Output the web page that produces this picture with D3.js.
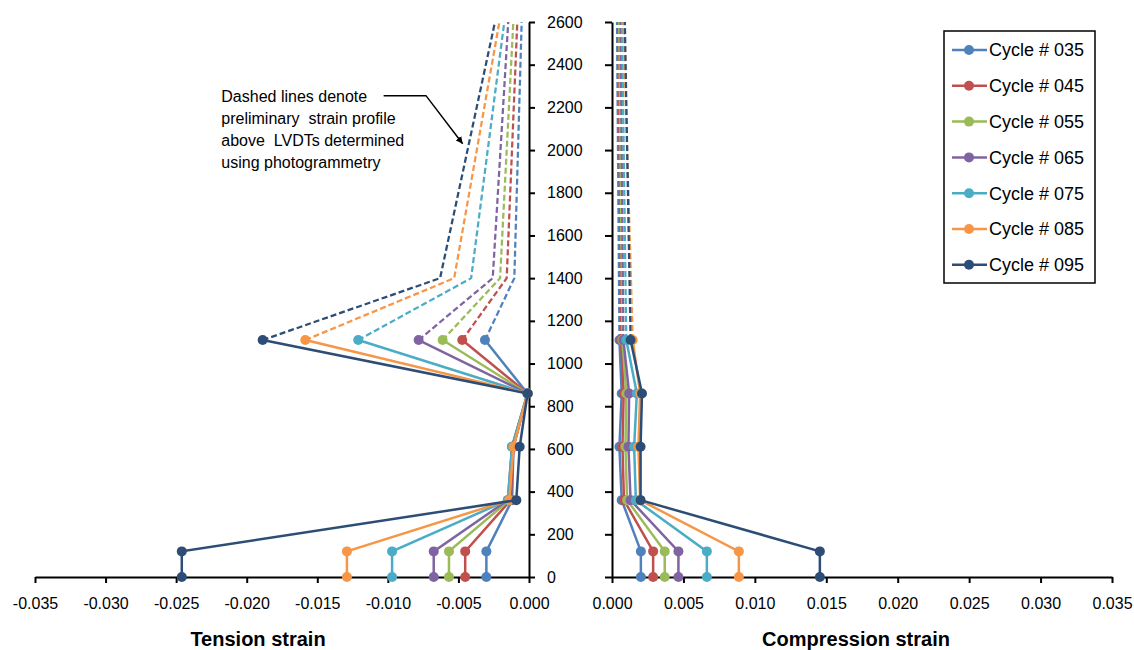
<!DOCTYPE html>
<html>
<head>
<meta charset="utf-8">
<script src="https://cdn.jsdelivr.net/npm/d3@7"></script>
<style>
  body { margin: 0; background: #fff; }
  svg { font-family: Arial, "Liberation Sans", sans-serif; }
  .axis path, .axis line { stroke: #000; stroke-width: 2; }
  .axis text { font-size: 16px; fill: #000; }
</style>
</head>
<body>
<div id="chart"></div>
<script>
// Data
var cycles = ['Cycle # 035', 'Cycle # 045', 'Cycle # 055', 'Cycle # 065', 'Cycle # 075', 'Cycle # 085', 'Cycle # 095'];
var colors = ['#4F81BD', '#C0504D', '#9BBB59', '#8064A2', '#4BACC6', '#F79646', '#2C4D75'];

// LVDT heights (solid) and photogrammetry heights (dashed)
var heights = [0, 120, 360, 610, 860, 1110];
var tensionDashHeights = [1110, 1400, 2600];
var compressionDashHeights = [1110, 2600];

var tension = [
  [-0.00302, -0.00302, -0.0012, -0.0011, -0.0001, -0.00312],
  [-0.00452, -0.00452, -0.0013, -0.0011, -0.0001, -0.00473],
  [-0.00567, -0.00567, -0.0014, -0.0012, -0.0001, -0.00612],
  [-0.00675, -0.00675, -0.0015, -0.0012, -0.0001, -0.00782],
  [-0.0097, -0.0097, -0.0015, -0.0012, -0.0001, -0.0121],
  [-0.0129, -0.0129, -0.0014, -0.0011, -0.0001, -0.01585],
  [-0.0246, -0.0246, -0.0009, -0.00066, -0.0001, -0.01887]
];
var tensionDashed = [
  [-0.00312, -0.00104, -0.00052],
  [-0.00473, -0.00158, -0.00083],
  [-0.00612, -0.00205, -0.00111],
  [-0.00782, -0.00257, -0.00147],
  [-0.0121, -0.0041, -0.00175],
  [-0.01585, -0.0053, -0.0021],
  [-0.01887, -0.0063, -0.00241]
];

var compression = [
  [0.00202, 0.00202, 0.00068, 0.00052, 0.00068, 0.00052],
  [0.00288, 0.00288, 0.00084, 0.00073, 0.00082, 0.00064],
  [0.00369, 0.00369, 0.00106, 0.00094, 0.0010, 0.00073],
  [0.00465, 0.00465, 0.0013, 0.00115, 0.0012, 0.0008],
  [0.00664, 0.00664, 0.00167, 0.00155, 0.00174, 0.0010],
  [0.00888, 0.00888, 0.00197, 0.00185, 0.00197, 0.00145],
  [0.01455, 0.01455, 0.0020, 0.0020, 0.0021, 0.0013]
];
var compressionDashed = [
  [0.00052, 0.00035],
  [0.00064, 0.00045],
  [0.00073, 0.0005],
  [0.0008, 0.0006],
  [0.0010, 0.0007],
  [0.00145, 0.0008],
  [0.0013, 0.0009]
];

var tensionTicks = [-0.035, -0.030, -0.025, -0.020, -0.015, -0.010, -0.005, 0];
var compressionTicks = [0, 0.005, 0.010, 0.015, 0.020, 0.025, 0.030, 0.035];
var heightTicks = [0, 200, 400, 600, 800, 1000, 1200, 1400, 1600, 1800, 2000, 2200, 2400, 2600];

var noteLines = ['Dashed lines denote', 'preliminary  strain profile', 'above  LVDTs determined', 'using photogrammetry'];

// Dimensions
var width = 1134,
    height = 650;

var svg = d3.select('#chart')
  .append('svg')
    .attr('width', width)
    .attr('height', height);

var y = d3.scaleLinear().domain([0, 2600]).range([577, 22]);
var xT = d3.scaleLinear().domain([-0.035, 0]).range([35, 529]);
var xC = d3.scaleLinear().domain([0, 0.035]).range([612, 1112]);

var fmt = function(d) { return d.toFixed(3); };

// Axes
svg.append('g')
    .attr('class', 'axis')
    .attr('transform', 'translate(0,577)')
    .call(d3.axisBottom(xT).tickValues(tensionTicks).tickFormat(fmt).tickSize(6).tickSizeOuter(0).tickPadding(15));

svg.append('g')
    .attr('class', 'axis')
    .attr('transform', 'translate(0,577)')
    .call(d3.axisBottom(xC).tickValues(compressionTicks).tickFormat(fmt).tickSize(6).tickSizeOuter(0).tickPadding(15));

svg.append('g')
    .attr('class', 'axis')
    .attr('transform', 'translate(529,0)')
    .call(d3.axisRight(y).tickValues(heightTicks).tickFormat(d3.format('d')).tickSize(6).tickSizeOuter(0).tickPadding(12));

svg.append('g')
    .attr('class', 'axis')
    .attr('transform', 'translate(612,0)')
    .call(d3.axisLeft(y).tickValues(heightTicks).tickFormat('').tickSize(7).tickSizeOuter(0));

svg.selectAll('.axis text').attr('font-family', 'Arial, "Liberation Sans", sans-serif');

// Axis titles
svg.append('text')
    .attr('x', 258)
    .attr('y', 646)
    .attr('text-anchor', 'middle')
    .style('font-size', '20px')
    .style('font-weight', 'bold')
    .text('Tension strain');

svg.append('text')
    .attr('x', 856)
    .attr('y', 646)
    .attr('text-anchor', 'middle')
    .style('font-size', '20px')
    .style('font-weight', 'bold')
    .text('Compression strain');

// Draw one panel's series
function drawPanel(x, solid, dashed, dashHeights) {
  var g = svg.append('g');
  for (var s = 0; s < cycles.length; s++) {
    var pts = heights.map(function(h, i) { return [solid[s][i], h]; });
    var dpts = dashHeights.map(function(h, i) { return [dashed[s][i], h]; });
    var line = d3.line()
      .x(function(d) { return x(d[0]); })
      .y(function(d) { return y(d[1]); });

    g.append('path')
        .attr('d', line(dpts))
        .attr('fill', 'none')
        .attr('stroke', colors[s])
        .attr('stroke-width', 2.25)
        .attr('stroke-dasharray', '6,3');

    g.append('path')
        .attr('d', line(pts))
        .attr('fill', 'none')
        .attr('stroke', colors[s])
        .attr('stroke-width', 2.5);

    g.selectAll('.m' + s)
        .data(pts)
      .enter().append('circle')
        .attr('class', 'm' + s)
        .attr('cx', function(d) { return x(d[0]); })
        .attr('cy', function(d) { return y(d[1]); })
        .attr('r', 5)
        .attr('fill', colors[s]);
  }
}

drawPanel(xT, tension, tensionDashed, tensionDashHeights);
drawPanel(xC, compression, compressionDashed, compressionDashHeights);

// Annotation
var note = svg.append('text')
    .attr('x', xT(-0.0218))
    .attr('y', y(2225))
    .style('font-size', '16px')
    .style('white-space', 'pre');
note.selectAll('tspan')
    .data(noteLines)
  .enter().append('tspan')
    .attr('x', xT(-0.0218))
    .attr('dy', function(d, i) { return i === 0 ? 0 : 22; })
    .text(function(d) { return d; });

svg.append('defs').append('marker')
    .attr('id', 'arrow')
    .attr('viewBox', '0 0 10 10')
    .attr('refX', 10)
    .attr('refY', 5)
    .attr('markerWidth', 7)
    .attr('markerHeight', 7)
    .attr('markerUnits', 'userSpaceOnUse')
    .attr('orient', 'auto')
  .append('path')
    .attr('d', 'M0,0L10,5L0,10z')
    .attr('fill', '#000');

var arrowPts = [[-0.0103, 2255], [-0.0073, 2255], [-0.0047, 2030]];
svg.append('path')
    .attr('d', d3.line()
      .x(function(d) { return xT(d[0]); })
      .y(function(d) { return y(d[1]); })(arrowPts))
    .attr('fill', 'none')
    .attr('stroke', '#000')
    .attr('stroke-width', 1.5)
    .attr('marker-end', 'url(#arrow)');

// Legend
var legend = svg.append('g').attr('transform', 'translate(944,31)');
legend.append('rect')
    .attr('width', 151)
    .attr('height', 252)
    .attr('fill', '#fff')
    .attr('stroke', '#000')
    .attr('stroke-width', 1.5);

var item = legend.selectAll('.item')
    .data(cycles)
  .enter().append('g')
    .attr('class', 'item')
    .attr('transform', function(d, i) { return 'translate(0,' + (19 + i * 35.8) + ')'; });

item.append('line')
    .attr('x1', 8)
    .attr('x2', 43)
    .attr('stroke', function(d, i) { return colors[i]; })
    .attr('stroke-width', 2.5);
item.append('circle')
    .attr('cx', 25)
    .attr('r', 5)
    .attr('fill', function(d, i) { return colors[i]; });
item.append('text')
    .attr('x', 45)
    .attr('dy', '0.35em')
    .style('font-size', '18px')
    .text(function(d) { return d; });
</script>
</body>
</html>
